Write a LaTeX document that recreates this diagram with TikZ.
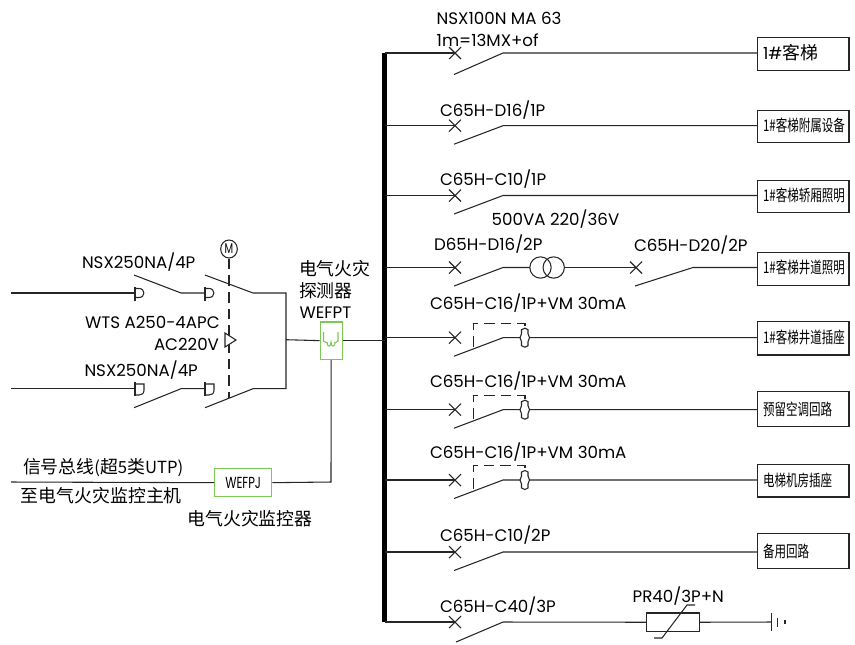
\documentclass[tikz,border=0pt]{standalone}
\usepackage{fontspec}
\usepackage{graphicx}
\usetikzlibrary{shapes.geometric}
\setmainfont{Poppins}
\newfontfamily\cjk{Noto Sans CJK SC}
\newcommand{\lab}[1]{\fontsize{12.5pt}{14pt}\selectfont #1}
\newcommand{\cjklab}[1]{\fontsize{13.4pt}{15pt}\selectfont\cjk #1}
\newcommand{\boxlab}[1]{\scalebox{.72}[1]{\fontsize{12pt}{14pt}\selectfont\cjk #1}}
\definecolor{fgreen}{RGB}{125,200,85}
\tikzset{
  wire/.style={draw=black!85,line width=.8pt},
  txt/.style={anchor=base west,inner sep=0pt,outer sep=0pt,text=black},
  loadbox/.style={draw=black!85,line width=.9pt,inner sep=0pt,anchor=north west},
  greenbox/.style={draw=fgreen,line width=1pt,inner sep=0pt,anchor=north west,fill=white},
  dashln/.style={draw=black!85,line width=.8pt,dash pattern=on 8pt off 4.5pt},
}
\begin{document}
\begin{tikzpicture}[x=.75pt,y=-.75pt]
\useasboundingbox (0,0) rectangle (855,644);
% busbar
\coordinate (bustop) at (384.5,53);
\coordinate (busbot) at (384.5,622);
\draw[line width=4.2pt,black] (bustop) -- (busbot);
% load boxes
\node[loadbox,minimum width=68.5pt,minimum height=24.5pt] (L1) at (757,37) {};
\node[loadbox,minimum width=68.5pt,minimum height=24.5pt] (L2) at (757,109.5) {};
\node[loadbox,minimum width=68.5pt,minimum height=24.5pt] (L3) at (757,179.5) {};
\node[loadbox,minimum width=68.5pt,minimum height=24.5pt] (L4) at (757,252) {};
\node[loadbox,minimum width=68.5pt,minimum height=25pt] (L5) at (757,321) {};
\node[loadbox,minimum width=68.5pt,minimum height=26pt] (L6) at (757,391) {};
\node[loadbox,minimum width=68.5pt,minimum height=24.5pt] (L7) at (757,463.7) {};
\node[loadbox,minimum width=68.5pt,minimum height=26pt] (L8) at (757,533) {};
% branch wires
\foreach \y/\n/\d in {53/1/21.5,125.7/2/18.5,195.5/3/18.5,337.7/5/18.5,409.7/6/18.5,480/7/18.5,552/8/18.5}{
  \coordinate (b\n) at (384.5,\y);
  \coordinate (c\n) at (455,\y);
  \coordinate (k\n) at (503,\y);
  \draw[wire] (b\n) -- (c\n);
  \draw[wire] (454,\y+\d) -- (k\n) -- (757,\y);
  \draw[wire] (449,\y-6) -- (461,\y+6) (449,\y+6) -- (461,\y-6);
}
% branch 4
\coordinate (b4) at (384.5,267.5);
\coordinate (c4) at (455,267.5);
\coordinate (k4) at (503,267.5);
\coordinate (k4b) at (693,267.5);
\draw[wire] (b4) -- (c4);
\draw[wire] (454,286) -- (k4) -- (530,267.5);
\draw[wire] (449,261.5) -- (461,273.5) (449,273.5) -- (461,261.5);
\node[circle,draw=black!85,line width=.8pt,minimum size=16pt,inner sep=0pt] (T1) at (540.5,267.5) {};
\node[circle,draw=black!85,line width=.8pt,minimum size=16pt,inner sep=0pt] (T2) at (553.7,267.5) {};
\draw[wire] (T2.east) -- (636,267.5);
\draw[wire] (630,261.5) -- (642,273.5) (630,273.5) -- (642,261.5);
\draw[wire] (635,286) -- (k4b) -- (757,267.5);
% RCD breakers
\foreach \y/\t in {337.7/323.5,409.7/395.7,480/465.7}{
  \draw[dashln] (473.7,\y+9) -- (473.7,\t) -- (525,\t) -- (525,\t+4);
  \draw[draw=black!85,fill=white,line width=.8pt] (525,\y-9.5) -- (528,\y-8) -- (528,\y-4) -- (529.5,\y) -- (528,\y+4) -- (528,\y+8) -- (525,\y+9.5) -- (521.5,\y+8) -- (521.5,\y+4) -- (520,\y) -- (521.5,\y-4) -- (521.5,\y-8) -- cycle;
}
% branch 9
\coordinate (b9) at (384.5,622);
\coordinate (k9) at (503,622);
\draw[wire] (b9) -- (455,622);
\draw[wire] (449,616) -- (461,628) (449,628) -- (461,616);
\draw[wire] (456,642) -- (k9);
\node[draw=black!85,line width=.9pt,inner sep=0pt,minimum width=39.5pt,minimum height=14pt,anchor=north west] (SPD) at (646,612.3) {};
\draw[wire] (k9) -- (SPD.west);
\draw[wire] (654,638) -- (662,638) -- (687,605) -- (695,605);
\coordinate (G) at (771.7,622);
\draw[wire] (SPD.east) -- (G);
\draw[wire] (771.7,612.7) -- (771.7,631) (777.5,618) -- (777.5,626.5) (785,620) -- (785,624);
% source side
\coordinate (S1) at (11,293);
\coordinate (S2) at (11,388.7);
\coordinate (J1) at (286,293);
\coordinate (J2) at (286,388.7);
\coordinate (J3) at (286,339.7);
\draw[wire] (S1) -- (135,293);
\draw[wire] (S2) -- (135,388.7);
\draw[wire] (134,275) -- (181,293) -- (205,293);
\draw[wire] (205,275) -- (253,293) -- (J1) -- (J2) -- (253,388.7) -- (205,407.7);
\draw[wire] (134,407.7) -- (181,388.7) -- (205,388.7);
% contact symbols
\foreach \x in {135,205}{
  \draw[wire] (\x,286.5) -- (\x,300.5);
  \draw[wire] (\x,288.5) -- (\x+4,288.5) .. controls (\x+10.5,288.5) and (\x+10.5,297.5) .. (\x+4,297.5) -- (\x,297.5);
  \draw[wire] (\x,382) -- (\x,396);
  \draw[wire] (\x,384) -- (\x+9,384) -- (\x+9,390) .. controls (\x+9,393.5) and (\x+7,395) .. (\x+4,395) -- (\x,395);
}
% interlock
\node[ellipse,draw=black!85,line width=.8pt,minimum width=12.5pt,minimum height=13.5pt,inner sep=0pt] (M) at (229,249) {\scalebox{.6}[.85]{\lab{M}}};
\coordinate (D) at (229,398);
\draw[dashln] (M.south) -- (D);
\draw[wire,fill=white] (225,333) -- (236,340) -- (225,347) -- cycle;
% detector
\node[greenbox,minimum width=16.5pt,minimum height=28pt] (FPT) at (319.5,321.3) {};
\draw[wire] (J3) -- (FPT.west);
\draw[wire] (FPT.east) -- (b5 |- FPT.east);
\draw[fgreen,line width=.8pt] (323.5,332) -- (323.5,341) -- (327,343) (338,332) -- (338,341) -- (335,343)
  (327,342) .. controls (327,347.5) and (331,347.5) .. (331,342) .. controls (331,347.5) and (335,347.5) .. (335,342);
% monitor
\node[greenbox,minimum width=42.75pt,minimum height=21pt] (FPJ) at (214,468) {\scalebox{.72}[1]{\fontsize{12pt}{14pt}\selectfont WEFPJ}};
\coordinate (S3) at (11,482);
\coordinate (C3) at (331,482);
\draw[wire] (S3) -- (FPJ.west);
\draw[wire] (FPJ.east) -- (C3) -- (FPT.south);
% labels
\node[txt] (t1) at (436.7,24) {\lab{NSX100N MA 63}};
\node[txt] (t2) at (436.7,46) {\lab{1m=13MX+of}};
\node[txt] (t3) at (440,116.7) {\lab{C65H-D16/1P}};
\node[txt] (t4) at (440,185) {\lab{C65H-C10/1P}};
\node[txt] (t5) at (491.7,225.7) {\lab{500VA 220/36V}};
\node[txt] (t6) at (434,250) {\lab{D65H-D16/2P}};
\node[txt] (t7) at (634,251.7) {\lab{C65H-D20/2P}};
\node[txt] (t8) at (430,309.3) {\lab{C65H-C16/1P+VM 30mA}};
\node[txt] (t9) at (430,387.3) {\lab{C65H-C16/1P+VM 30mA}};
\node[txt] (t10) at (430,458) {\lab{C65H-C16/1P+VM 30mA}};
\node[txt] (t11) at (440,541.7) {\lab{C65H-C10/2P}};
\node[txt] (t12) at (440,612.7) {\lab{C65H-C40/3P}};
\node[txt] (t13) at (632.7,602) {\lab{PR40/3P+N}};
\node[txt] (t14) at (82,268) {\lab{NSX250NA/4P}};
\node[txt] (t15) at (85,328) {\lab{WTS A250-4APC}};
\node[txt] (t16) at (154,350) {\lab{AC220V}};
\node[txt] (t17) at (84.5,376) {\lab{NSX250NA/4P}};
\node[txt] (t18) at (299,275) {\cjklab{电气火灾}};
\node[txt] (t19) at (299,297.7) {\cjklab{探测器}};
\node[txt] (t20) at (299.5,318) {\lab{WEFPT}};
\node[txt] (t21) at (23,473) {\cjklab{信号总线}\lab{(}\cjklab{超}\lab{5}\cjklab{类}\lab{UTP)}};
\node[txt] (t22) at (21,502.7) {\cjklab{至电气火灾监控主机}};
\node[txt] (t23) at (187.5,525) {\cjklab{电气火灾监控器}};
% load labels
\node[txt] (n1) at (763,59) {\lab{1\#}\cjklab{客梯}};
\node[txt] (n2) at (763,131) {\boxlab{1\#客梯附属设备}};
\node[txt] (n3) at (763,201) {\boxlab{1\#客梯轿厢照明}};
\node[txt] (n4) at (763,273) {\boxlab{1\#客梯井道照明}};
\node[txt] (n5) at (763,343) {\boxlab{1\#客梯井道插座}};
\node[txt] (n6) at (763,415) {\boxlab{预留空调回路}};
\node[txt] (n7) at (763,486) {\boxlab{电梯机房插座}};
\node[txt] (n8) at (763,557) {\boxlab{备用回路}};
\end{tikzpicture}
\end{document}
